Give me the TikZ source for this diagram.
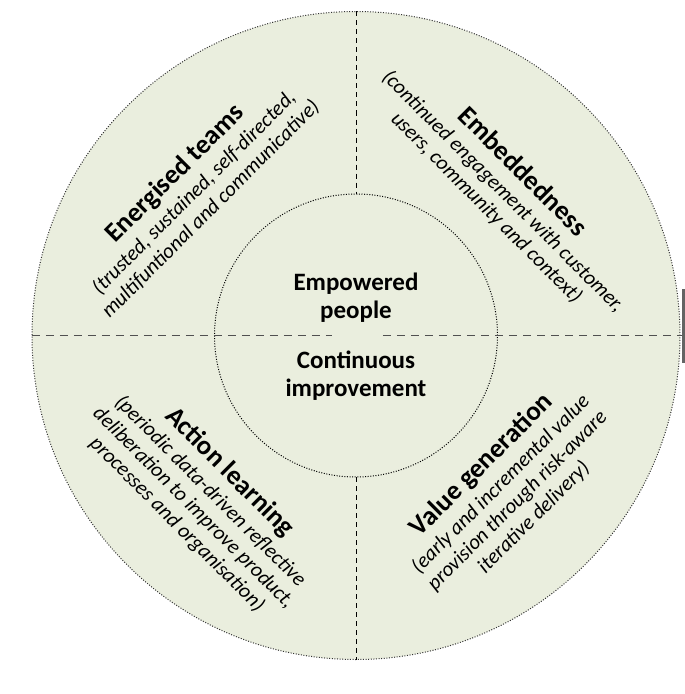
\documentclass[tikz,border=0pt]{standalone}
\usepackage{fontspec}
\setmainfont{Carlito}
\usepackage{tikz}
\usetikzlibrary{positioning}

\definecolor{sage}{RGB}{234,238,222}
\definecolor{dashgray}{RGB}{80,80,80}
\definecolor{bargray}{RGB}{100,100,100}

\tikzset{
  quadtext/.style={align=center, inner sep=0pt, font=\itshape\fontsize{21}{23.5}\selectfont},
  hubtext/.style={align=center, inner sep=0pt, font=\bfseries\fontsize{25}{28}\selectfont},
  ring/.style={line width=1pt, dash pattern=on 1pt off 1.6pt},
}
\newcommand{\quadhead}[1]{{\upshape\bfseries\fontsize{27}{30}\selectfont #1}\\[2pt]}

\begin{document}
\begin{tikzpicture}[x=1pt, y=1pt]
    \useasboundingbox (-356, 335.5) rectangle (329, -358.5);

    % outer disc
    \fill[sage] (0, 0) circle (324);
    \draw[ring, color=black!80] (0, 0) circle (324);

    % hub
    \draw[ring, color=black] (0, 0) circle (141.5);

    % dividers
    \draw[black, line width=0.8pt, dash pattern=on 5pt off 4pt] (0, 324) -- (0, 141.5);
    \draw[black, line width=0.8pt, dash pattern=on 5pt off 4pt] (0, -141.5) -- (0, -324);
    \draw[dashgray, line width=1.8pt, dash pattern=on 8pt off 6pt] (-324, 0) -- (-24, 0);
    \draw[dashgray, line width=1.8pt, dash pattern=on 8pt off 6pt] (27, 0) -- (326, 0);
    \fill[bargray] (326, 46.5) rectangle (329, -27.5);

    % quadrants
    \node[quadtext, rotate=45] (teams) at (-164, 145) {\quadhead{Energised teams}(trusted, sustained, self-directed,\\multifuntional and communicative)};
    \node[quadtext, rotate=-45] (embed) at (149, 146) {\quadhead{Embeddedness}(continued engagement with customer,\\users, community and context)};
    \node[quadtext, rotate=-45] (action) at (-152, -162) {\quadhead{Action learning}(periodic data-driven reflective\\deliberation to improve product,\\processes and organisation)};
    \node[quadtext, rotate=45] (value) at (151, -155) {\quadhead{Value generation}(early and incremental value\\provision through risk-aware\\iterative delivery)};

    % centre
    \node[hubtext] (people) at (0, 38) {Empowered\\people};
    \node[hubtext] (improve) at (0, -40.5) {Continuous\\improvement};
\end{tikzpicture}
\end{document}
